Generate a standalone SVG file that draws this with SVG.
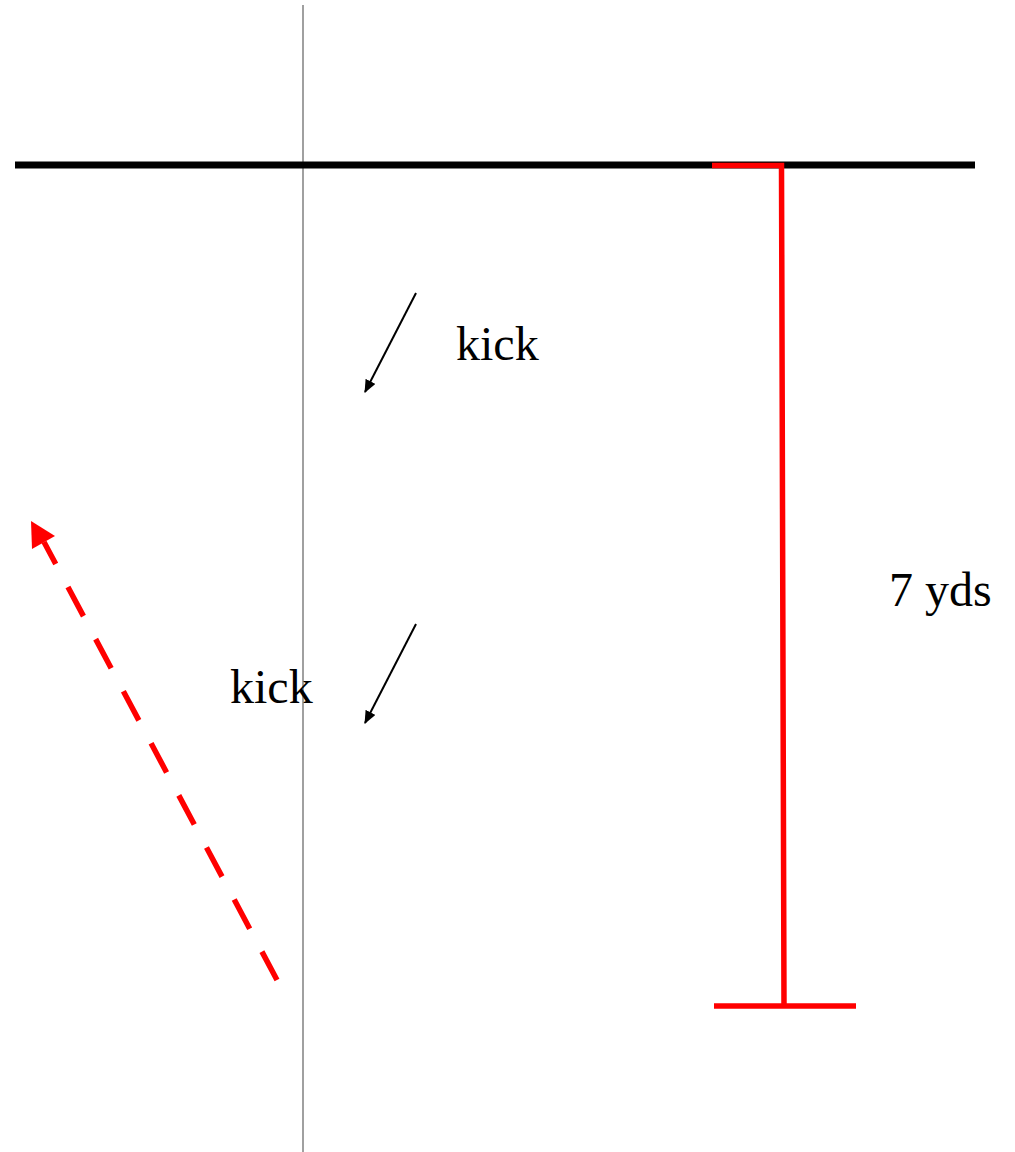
<svg xmlns="http://www.w3.org/2000/svg" width="1015" height="1152" viewBox="0 0 1015 1152">
  <style>
    .lbl { font-family: "Liberation Serif", "Times New Roman", serif; font-size: 48px; fill: #000; }
    .kick { stroke: #000; stroke-width: 2; fill: none; }
    .red { stroke: #ff0000; stroke-width: 5.5; fill: none; }
  </style>
  <defs>
    <marker id="blackHead" markerWidth="13" markerHeight="11" refX="12" refY="5.5" orient="auto" markerUnits="userSpaceOnUse">
      <polygon points="0,0 13,5.5 0,11" fill="#000"/>
    </marker>
  </defs>
  <rect width="1015" height="1152" fill="#fff"/>
  <g id="field">
    <line x1="303" y1="5" x2="303" y2="1152" stroke="#808080" stroke-width="1.5"/>
    <line x1="15" y1="165" x2="975" y2="165" stroke="#000" stroke-width="7"/>
  </g>
  <g id="measure">
    <polyline class="red" points="712,165.5 781.5,165.5 784,1006"/>
    <line class="red" x1="714" y1="1006" x2="856" y2="1006"/>
    <text class="lbl" x="889" y="606">7 yds</text>
  </g>
  <g id="kick1">
    <text class="lbl" x="456" y="360">kick</text>
  </g>
  <g id="kick2">
    <text class="lbl" x="230" y="703">kick</text>
  </g>
  <g id="connectors">
    <line class="kick" x1="416" y1="293" x2="365" y2="392" marker-end="url(#blackHead)"/>
    <line class="kick" x1="416" y1="624" x2="365" y2="723" marker-end="url(#blackHead)"/>
    <line class="red" stroke-width="7.5" x1="44" y1="542" x2="277" y2="980" stroke-dasharray="33 26" stroke-dashoffset="8"/>
    <polygon points="31,521 55,536 32,549" fill="#ff0000"/>
  </g>
</svg>
